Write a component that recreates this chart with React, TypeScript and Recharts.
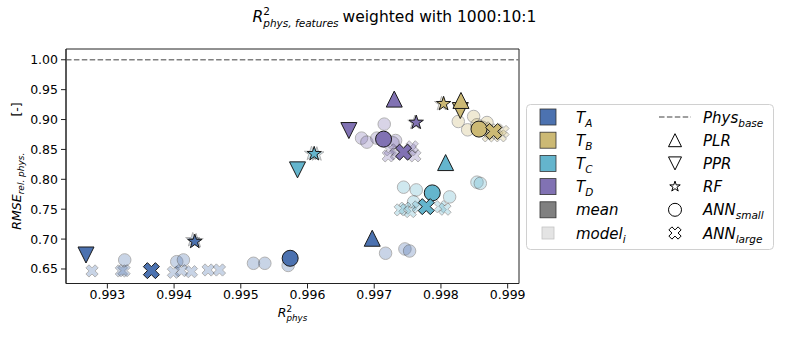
import React from 'react';
import { ScatterChart, Scatter, XAxis, YAxis, ReferenceLine, ReferenceArea } from 'recharts';

// ---------- axes ----------
const X_TICKS = [0.993, 0.994, 0.995, 0.996, 0.997, 0.998, 0.999];
const Y_TICKS = [0.65, 0.7, 0.75, 0.8, 0.85, 0.9, 0.95, 1.0];
const X_DOMAIN: [number, number] = [0.99238, 0.99917];
const Y_DOMAIN: [number, number] = [0.6257, 1.018];
const PHYS_BASE = 1.0;

// ---------- targets ----------
const TARGETS = ['A', 'B', 'C', 'D'];
const TARGET_COLORS = ['#4c72b0', '#ccb974', '#64b5cd', '#8172b3'];

// ---------- means per model type, order T_A, T_B, T_C, T_D ----------
const plrMeans = [[0.99697, 0.7014], [0.9983, 0.9319], [0.99807, 0.828], [0.9973, 0.9342]];
const pprMeans = [[0.99268, 0.6734], [0.99829, 0.9151], [0.99585, 0.8158], [0.99662, 0.8816]];
const rfMeans = [[0.99431, 0.6957], [0.99804, 0.9263], [0.9961, 0.8426], [0.99763, 0.895]];
const annSmallMeans = [[0.99574, 0.6679], [0.99857, 0.884], [0.99787, 0.7773], [0.99714, 0.8672]];
const annLargeMeans = [[0.99366, 0.6472], [0.99879, 0.88], [0.99778, 0.7543], [0.99744, 0.8454]];

// ---------- individual models ----------
const annSmallModelsA = [[0.99326, 0.6651], [0.99404, 0.6622], [0.99414, 0.6651], [0.99519, 0.6595], [0.99536, 0.6595], [0.99571, 0.6559], [0.99717, 0.6763], [0.99746, 0.6835], [0.99753, 0.6801]];
const annLargeModelsA = [[0.99277, 0.6467], [0.99321, 0.6467], [0.99325, 0.6472], [0.99399, 0.6445], [0.99411, 0.6472], [0.99426, 0.6455], [0.99451, 0.6483], [0.99468, 0.6483]];
const rfModelsA = [[0.99428, 0.6986], [0.99433, 0.697]];

const annSmallModelsB = [[0.99826, 0.8967], [0.9984, 0.8828], [0.99849, 0.9051], [0.99869, 0.895], [0.99854, 0.8912], [0.99862, 0.887]];
const annLargeModelsB = [[0.99866, 0.8861], [0.99874, 0.8778], [0.99884, 0.8828], [0.99889, 0.8727], [0.99871, 0.8727], [0.99893, 0.88]];
const rfModelsB = [[0.99801, 0.9263]];

const annSmallModelsC = [[0.99744, 0.7868], [0.99763, 0.7823], [0.99759, 0.7622], [0.99813, 0.7706], [0.99854, 0.7952], [0.99859, 0.7932]];
const annLargeModelsC = [[0.99746, 0.7517], [0.99754, 0.746], [0.99766, 0.7538], [0.99799, 0.7543], [0.99806, 0.75], [0.99739, 0.7488]];
const rfModelsC = [[0.99606, 0.843], [0.99614, 0.842]];

const annSmallModelsD = [[0.99681, 0.8689], [0.99689, 0.8622], [0.99715, 0.8923], [0.99704, 0.8689], [0.99732, 0.8649], [0.99728, 0.861]];
const annLargeModelsD = [[0.99724, 0.8493], [0.99733, 0.8426], [0.99754, 0.8493], [0.99761, 0.8392], [0.99721, 0.8392], [0.99757, 0.8543]];
const rfModelsD = [[0.99761, 0.895]];

const annSmallModels = [annSmallModelsA, annSmallModelsB, annSmallModelsC, annSmallModelsD];
const annLargeModels = [annLargeModelsA, annLargeModelsB, annLargeModelsC, annLargeModelsD];
const rfModels = [rfModelsA, rfModelsB, rfModelsC, rfModelsD];

const toPts = (arr: number[][]) => arr.map(([x, y]) => ({ x, y }));

// ---------- marker drawing ----------
type Kind = 'circle' | 'triUp' | 'triDown' | 'star' | 'xcross';

function starPoints(cx: number, cy: number, R: number) {
  const pts: string[] = [];
  for (let i = 0; i < 10; i++) {
    const a = ((-90 + i * 36) * Math.PI) / 180;
    const r = i % 2 === 0 ? R : R * 0.381966;
    pts.push(`${cx + r * Math.cos(a)},${cy + r * Math.sin(a)}`);
  }
  return pts.join(' ');
}

const PLUS = [[-1, -3], [-1, -1], [-3, -1], [-3, 1], [-1, 1], [-1, 3], [1, 3], [1, 1], [3, 1], [3, -1], [1, -1], [1, -3]];
function xPoints(cx: number, cy: number, s: number) {
  const k = s / 6;
  return PLUS.map(([px, py]) => {
    const x = px * k, y = py * k;
    const rx = (x - y) / Math.SQRT2, ry = (x + y) / Math.SQRT2;
    return `${cx + rx},${cy + ry}`;
  }).join(' ');
}

function Marker({ kind, cx, cy, s, fill, stroke, sw }: { kind: Kind; cx: number; cy: number; s: number; fill: string; stroke: string; sw: number }) {
  const common = { fill, stroke, strokeWidth: sw, strokeLinejoin: 'miter' as const };
  if (kind === 'circle') return <circle cx={cx} cy={cy} r={s / 2} {...common} />;
  if (kind === 'triUp') return <polygon points={`${cx},${cy - s / 2} ${cx - s / 2},${cy + s / 2} ${cx + s / 2},${cy + s / 2}`} {...common} />;
  if (kind === 'triDown') return <polygon points={`${cx},${cy + s / 2} ${cx - s / 2},${cy - s / 2} ${cx + s / 2},${cy - s / 2}`} {...common} />;
  if (kind === 'star') return <polygon points={starPoints(cx, cy, s / 2)} {...common} />;
  return <polygon points={xPoints(cx, cy, s)} {...common} />;
}

const meanShape = (kind: Kind, color: string, s: number) => (props: any) => (
  <Marker kind={kind} cx={props.cx} cy={props.cy} s={s} fill={color} stroke="#1a1a1a" sw={1} />
);
const lightShape = (kind: Kind, color: string, s: number) => (props: any) => (
  <g opacity={0.3}>
    <Marker kind={kind} cx={props.cx} cy={props.cy} s={s} fill={color} stroke="#000" sw={1} />
  </g>
);

const FONT = "'DejaVu Sans', sans-serif";

function Overlay() {
  const rowY = [117, 140.2, 163.4, 186.6, 209.8, 233];
  const c1 = 548, t1 = 576, c2 = 675, t2 = 703;
  const lfs = 15;
  const sub = 10.5;
  const labelT = (letter: string) => (
    <>
      <tspan fontStyle="italic">T</tspan>
      <tspan fontStyle="italic" fontSize={sub} dy={4}>{letter}</tspan>
    </>
  );
  return (
    <svg width={789} height={338} style={{ position: 'absolute', left: 0, top: 0, pointerEvents: 'none' }} fontFamily={FONT}>
      {/* title */}
      <text x={394.5} y={22} textAnchor="middle" fontSize={15.5} fill="#000">
        <tspan fontStyle="italic">R</tspan>
        <tspan fontSize={10.5} dy={-7}>2</tspan>
        <tspan fontSize={10.5} fontStyle="italic" dx={-6.7} dy={12}>phys, features</tspan>
        <tspan dy={-5} dx={4}>weighted with 1000:10:1</tspan>
      </text>
      {/* y label */}
      <text transform="translate(21,166) rotate(-90)" textAnchor="middle" fontSize={12.5} fill="#000">
        <tspan fontStyle="italic">RMSE</tspan>
        <tspan fontStyle="italic" fontSize={9} dy={3}>rel. phys.</tspan>
        <tspan dy={-3} dx={36}>[-]</tspan>
      </text>
      {/* x label */}
      <text x={292.5} y={317} textAnchor="middle" fontSize={12.5} fill="#000">
        <tspan fontStyle="italic">R</tspan>
        <tspan fontSize={8.75} dy={-5}>2</tspan>
        <tspan fontStyle="italic" fontSize={8.75} dx={-5.6} dy={8.5}>phys</tspan>
      </text>
      {/* legend */}
      <rect x={526.5} y={104.5} width={247} height={145} rx={4} fill="#fff" fillOpacity={0.8} stroke="#d0d0d0" strokeWidth={1} />
      {TARGETS.map((t, i) => (
        <g key={t}>
          <rect x={c1 - 8} y={rowY[i] - 8} width={16} height={16} fill={TARGET_COLORS[i]} stroke="#333" strokeWidth={0.8} />
          <text x={t1} y={rowY[i] + 5.5} fontSize={lfs} fill="#000">{labelT(t)}</text>
        </g>
      ))}
      <rect x={c1 - 8} y={rowY[4] - 8} width={16} height={16} fill="#808080" stroke="#333" strokeWidth={0.8} />
      <text x={t1} y={rowY[4] + 5.5} fontSize={lfs} fontStyle="italic" fill="#000">mean</text>
      <rect x={c1 - 6} y={rowY[5] - 6} width={12} height={12} fill="#e4e4e4" stroke="#c4c4c4" strokeWidth={0.8} />
      <text x={t1} y={rowY[5] + 5.5} fontSize={lfs} fill="#000">
        <tspan fontStyle="italic">model</tspan>
        <tspan fontStyle="italic" fontSize={sub} dy={4}>i</tspan>
      </text>

      <line x1={659} x2={691} y1={rowY[0]} y2={rowY[0]} stroke="#808080" strokeWidth={1.5} strokeDasharray="5.5 2.4" />
      <text x={t2} y={rowY[0] + 5.5} fontSize={lfs} fill="#000">
        <tspan fontStyle="italic">Phys</tspan>
        <tspan fontStyle="italic" fontSize={sub} dy={4}>base</tspan>
      </text>
      <Marker kind="triUp" cx={c2} cy={rowY[1]} s={13} fill="#fff" stroke="#000" sw={1} />
      <text x={t2} y={rowY[1] + 5.5} fontSize={lfs} fontStyle="italic" fill="#000">PLR</text>
      <Marker kind="triDown" cx={c2} cy={rowY[2]} s={13} fill="#fff" stroke="#000" sw={1} />
      <text x={t2} y={rowY[2] + 5.5} fontSize={lfs} fontStyle="italic" fill="#000">PPR</text>
      <Marker kind="star" cx={c2} cy={rowY[3]} s={11} fill="#fff" stroke="#000" sw={1} />
      <text x={t2} y={rowY[3] + 5.5} fontSize={lfs} fontStyle="italic" fill="#000">RF</text>
      <Marker kind="circle" cx={c2} cy={rowY[4]} s={13} fill="#fff" stroke="#000" sw={1} />
      <text x={t2} y={rowY[4] + 5.5} fontSize={lfs} fill="#000">
        <tspan fontStyle="italic">ANN</tspan>
        <tspan fontStyle="italic" fontSize={sub} dy={4}>small</tspan>
      </text>
      <Marker kind="xcross" cx={c2} cy={rowY[5]} s={13} fill="#fff" stroke="#000" sw={1} />
      <text x={t2} y={rowY[5] + 5.5} fontSize={lfs} fill="#000">
        <tspan fontStyle="italic">ANN</tspan>
        <tspan fontStyle="italic" fontSize={sub} dy={4}>large</tspan>
      </text>
    </svg>
  );
}

export default function App() {
  const tickStyle = { fontSize: 12.5, fill: '#000', fontFamily: FONT };
  return (
    <div style={{ position: 'absolute', left: 0, top: 0, width: 789, height: 338, background: '#fff' }}>
      <ScatterChart width={789} height={338} margin={{ top: 49, right: 270, bottom: 24.5, left: 6 }}>
        <XAxis
          type="number"
          dataKey="x"
          domain={X_DOMAIN}
          ticks={X_TICKS}
          allowDataOverflow
          tickFormatter={(v: number) => v.toFixed(3)}
          tick={tickStyle}
          tickSize={5}
          tickMargin={2}
          height={30}
          stroke="#222"
          axisLine={{ stroke: '#222' }}
          tickLine={{ stroke: '#222' }}
        />
        <YAxis
          type="number"
          dataKey="y"
          domain={Y_DOMAIN}
          ticks={Y_TICKS}
          allowDataOverflow
          tickFormatter={(v: number) => v.toFixed(2)}
          tick={tickStyle}
          tickSize={5}
          tickMargin={3}
          width={60}
          stroke="#222"
          axisLine={{ stroke: '#222' }}
          tickLine={{ stroke: '#222' }}
        />
        <ReferenceArea x1={X_DOMAIN[0]} x2={X_DOMAIN[1]} y1={Y_DOMAIN[0]} y2={Y_DOMAIN[1]} fill="none" fillOpacity={0} stroke="#222" strokeWidth={1} />
        <ReferenceLine y={PHYS_BASE} stroke="#808080" strokeWidth={1.5} strokeDasharray="5.5 2.4" />

        {TARGETS.map((t, i) => (
          <Scatter key={`rfm${t}`} name={`rf models ${t}`} data={toPts(rfModels[i])} isAnimationActive={false} shape={lightShape('star', TARGET_COLORS[i], 15)} />
        ))}
        {TARGETS.map((t, i) => (
          <Scatter key={`asm${t}`} name={`ann small models ${t}`} data={toPts(annSmallModels[i])} isAnimationActive={false} shape={lightShape('circle', TARGET_COLORS[i], 12.5)} />
        ))}
        {TARGETS.map((t, i) => (
          <Scatter key={`alm${t}`} name={`ann large models ${t}`} data={toPts(annLargeModels[i])} isAnimationActive={false} shape={lightShape('xcross', TARGET_COLORS[i], 13)} />
        ))}

        {TARGETS.map((t, i) => (
          <Scatter key={`ppr${t}`} name={`PPR ${t}`} data={toPts([pprMeans[i]])} isAnimationActive={false} shape={meanShape('triDown', TARGET_COLORS[i], 16)} />
        ))}
        {TARGETS.map((t, i) => (
          <Scatter key={`plr${t}`} name={`PLR ${t}`} data={toPts([plrMeans[i]])} isAnimationActive={false} shape={meanShape('triUp', TARGET_COLORS[i], 16)} />
        ))}
        {TARGETS.map((t, i) => (
          <Scatter key={`rf${t}`} name={`RF ${t}`} data={toPts([rfMeans[i]])} isAnimationActive={false} shape={meanShape('star', TARGET_COLORS[i], 15)} />
        ))}
        {TARGETS.map((t, i) => (
          <Scatter key={`as${t}`} name={`ANN small ${t}`} data={toPts([annSmallMeans[i]])} isAnimationActive={false} shape={meanShape('circle', TARGET_COLORS[i], 16)} />
        ))}
        {TARGETS.map((t, i) => (
          <Scatter key={`al${t}`} name={`ANN large ${t}`} data={toPts([annLargeMeans[i]])} isAnimationActive={false} shape={meanShape('xcross', TARGET_COLORS[i], 17)} />
        ))}
      </ScatterChart>
      <Overlay />
    </div>
  );
}
